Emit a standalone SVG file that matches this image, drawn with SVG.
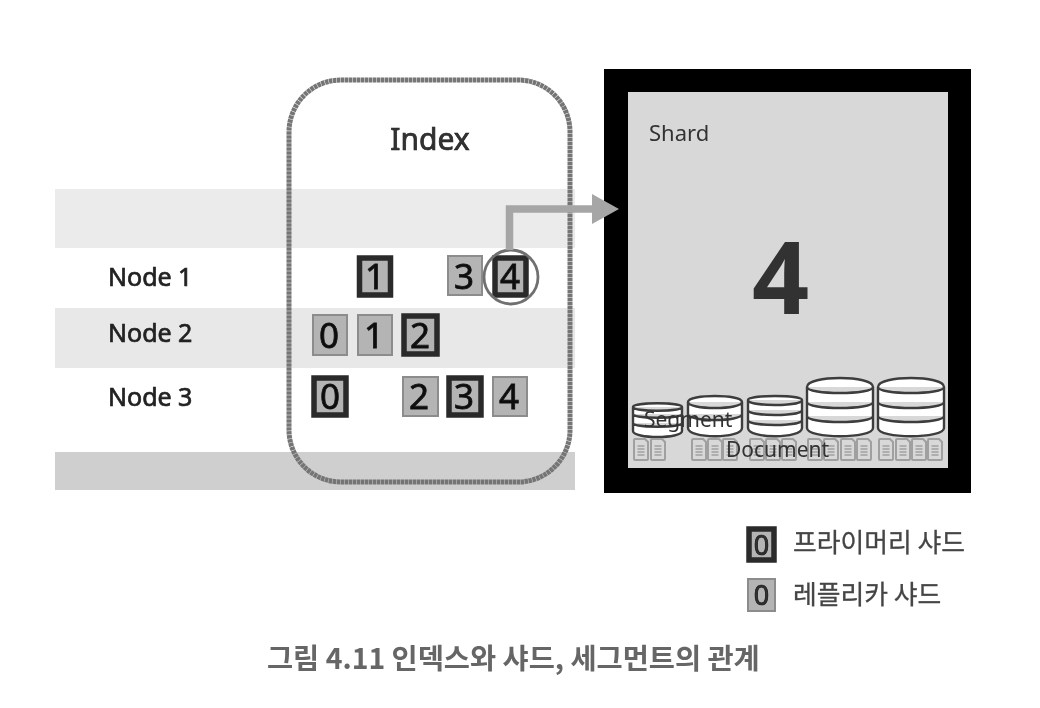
<svg xmlns="http://www.w3.org/2000/svg" width="1040" height="708" viewBox="0 0 1040 708">
<style>
text{font-family:"Noto Sans","Noto Sans CJK KR",sans-serif;fill:#333}
.lbl{font-size:25px;fill:#222;stroke:#222;stroke-width:.7px}
.num{font-size:35px;text-anchor:middle;fill:#111;stroke:#111;stroke-width:.8px}
.p{fill:#b4b4b4;stroke:#2a2a2a;stroke-width:5.500}
.r{fill:#b4b4b4;stroke:#8c8c8c;stroke-width:2}
.cyl{fill:#fff;stroke:#3c3c3c;stroke-width:2.400}
.doc{fill:#d8d8d8;stroke:#a0a0a0;stroke-width:2}
.dl{stroke:#a0a0a0;stroke-width:1.300}
.kr{font-family:"Noto Sans CJK KR","Noto Sans",sans-serif;font-size:25.800px;fill:#444;stroke:#444;stroke-width:.3px}
</style>
<defs>
<filter id="soft" x="0" y="0" width="100%" height="100%"><feGaussianBlur stdDeviation="0.55"/></filter>
<g id="d"><path class="doc" d="M0 1Q0 0 1 0H11L14 3V20Q14 21 13 21H1Q0 21 0 20Z"/><path class="dl" d="M3.500 7H10.500M3.500 10H10.500M3.500 13H10.500M3.500 16H10.500"/></g>
</defs>
<g filter="url(#soft)">
<rect width="1040" height="708" fill="#fff"/>
<g id="bands">
<rect x="55" y="189" width="520" height="59" fill="#ebebeb"/>
<rect x="55" y="308" width="520" height="60" fill="#e8e8e8"/>
<rect x="55" y="452" width="520" height="38" fill="#cfcfcf"/>
</g>
<g id="node-labels">
<text class="lbl" x="108" y="286">Node 1</text>
<text class="lbl" x="108" y="342">Node 2</text>
<text class="lbl" x="108" y="406">Node 3</text>
</g>
<g id="index">
<rect x="289" y="80" width="281" height="402" rx="52" fill="none" stroke="#757575" stroke-width="5" stroke-dasharray="3.500 .5"/>
<text x="430" y="150" font-size="30" text-anchor="middle" fill="#222" stroke="#222" stroke-width=".7">Index</text>
</g>
<g id="n1-s1"><rect class="p" x="359.500" y="258" width="31" height="37"/><text class="num" x="375" y="289">1</text></g>
<g id="n1-s3"><rect class="r" x="448" y="256" width="34" height="39"/><text class="num" x="464" y="289">3</text></g>
<g id="n1-s4"><rect class="p" x="495" y="258" width="31" height="37"/><text class="num" x="510" y="289">4</text><circle cx="511" cy="277" r="27" fill="none" stroke="#707070" stroke-width="2.800"/></g>
<g id="n2-s0"><rect class="r" x="313" y="315" width="34" height="40"/><text class="num" x="329" y="348">0</text></g>
<g id="n2-s1"><rect class="r" x="358" y="315" width="34" height="40"/><text class="num" x="374" y="348">1</text></g>
<g id="n2-s2"><rect class="p" x="404" y="316" width="33" height="38"/><text class="num" x="420" y="348">2</text></g>
<g id="n3-s0"><rect class="p" x="314" y="378" width="32" height="37"/><text class="num" x="330" y="409">0</text></g>
<g id="n3-s2"><rect class="r" x="403" y="377" width="35" height="39"/><text class="num" x="419" y="409">2</text></g>
<g id="n3-s3"><rect class="p" x="449" y="378" width="32" height="37"/><text class="num" x="464" y="409">3</text></g>
<g id="n3-s4"><rect class="r" x="493" y="377" width="34" height="39"/><text class="num" x="509" y="409">4</text></g>
<g id="shard">
<rect x="604" y="69" width="367" height="424" fill="#000"/>
<rect x="628" y="92" width="320" height="376" fill="#d8d8d8"/>
<text x="649" y="141" font-size="22" fill="#333">Shard</text>
<text x="780.500" y="314" font-size="100" font-weight="700" text-anchor="middle" fill="#1f1f1f">4</text>
</g>
<g id="connectors">
<path d="M509.500 250V209H595" fill="none" stroke="#a6a6a6" stroke-width="7.500"/>
<polygon points="592,194 619,209 592,224" fill="#a6a6a6"/>
</g>
<g id="segment-1"><path class="cyl" d="M633 407C633 402 682 402 682 407V431C682 439 633 439 633 431ZM633 407C633 412 682 412 682 407M633 414C633 419 682 419 682 414M633 423C633 428 682 428 682 423"/></g>
<g id="segment-2"><path class="cyl" d="M688 402C688 394 742 394 742 402V428C742 439 688 439 688 428ZM688 402C688 410 742 410 742 402M688 414C688 422 742 422 742 414"/></g>
<g id="segment-3"><path class="cyl" d="M748 400C748 394.700 802 394.700 802 400V428C802 439 748 439 748 428ZM748 400C748 406.700 802 406.700 802 400M748 410C748 416.700 802 416.700 802 410M748 420C748 426.700 802 426.700 802 420"/></g>
<g id="segment-4"><path class="cyl" d="M807 387C807 375 873 375 873 387V428C873 439 807 439 807 428ZM807 387C807 395 873 395 873 387M807 402C807 410 873 410 873 402M807 416C807 424 873 424 873 416"/></g>
<g id="segment-5"><path class="cyl" d="M878 387C878 375 944 375 944 387V428C944 439 878 439 878 428ZM878 387C878 395 944 395 944 387M878 402C878 410 944 410 944 402M878 416C878 424 944 424 944 416"/></g>
<g id="documents">
<use href="#d" x="634" y="439"/><use href="#d" x="651" y="439"/>
<use href="#d" x="692" y="439"/><use href="#d" x="708" y="439"/><use href="#d" x="723" y="439"/>
<use href="#d" x="750" y="439"/><use href="#d" x="766" y="439"/><use href="#d" x="782" y="439"/>
<use href="#d" x="808" y="439"/><use href="#d" x="824" y="439"/><use href="#d" x="841" y="439"/><use href="#d" x="857" y="439"/>
<use href="#d" x="879" y="439"/><use href="#d" x="896" y="439"/><use href="#d" x="912" y="439"/><use href="#d" x="928" y="439"/>
</g>
<text x="644" y="427" font-size="21" fill="#333">Segment</text>
<text x="726" y="457" font-size="21" fill="#222">Document</text>
<g id="legend-primary"><rect class="p" x="749" y="529" width="25" height="31"/><text x="761.500" y="555" font-size="27" text-anchor="middle" fill="#111" stroke="#111" stroke-width=".7">0</text><text class="kr" x="793" y="552">프라이머리 샤드</text></g>
<g id="legend-replica"><rect class="r" x="748" y="579" width="27" height="32"/><text x="761.500" y="605" font-size="27" text-anchor="middle" fill="#111" stroke="#111" stroke-width=".7">0</text><text class="kr" x="793" y="604">레플리카 샤드</text></g>
<text x="267" y="669" font-size="28.400" font-weight="700" style="font-family:'Noto Sans CJK KR',sans-serif;fill:#666">그림 4.11 인덱스와 샤드, 세그먼트의 관계</text>
</g>
</svg>
